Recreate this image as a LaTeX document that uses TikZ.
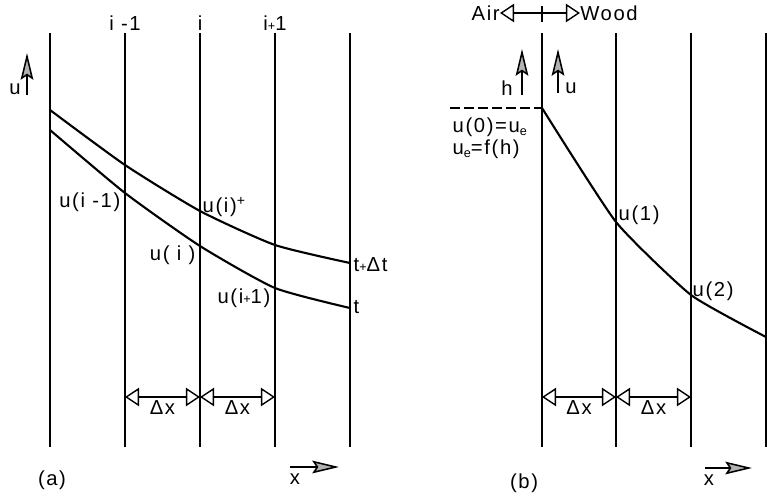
\documentclass[tikz,border=0pt]{standalone}
\usepackage{fontspec}
\setmainfont{Liberation Sans}[LetterSpace=8]
\usetikzlibrary{arrows.meta}
\tikzset{
  gridline/.style={line width=1.1pt},
  profile/.style={line width=1.5pt},
  dimarrow/.style={line width=0.9pt,{Triangle[open,length=10pt,width=13pt,line width=1pt]}-{Triangle[open,length=10pt,width=13pt,line width=1pt]}},
  axisarrow/.style={line width=1.1pt,-{Stealth[length=19pt,width=9pt,inset=3pt,fill=gray!60]}},
  lbl/.style={inner sep=1pt,font=\Large}
}
\begin{document}
\begin{tikzpicture}[x=0.025cm,y=-0.025cm]
\useasboundingbox (0,0) rectangle (767,496);
% (a) grid of nodes
\foreach \n/\xx in {0/50,1/125,2/200,3/275,4/350}{
  \coordinate (aT\n) at (\xx,33);
  \coordinate (aB\n) at (\xx,447);
  \coordinate (aD\n) at (\xx,397);
  \draw[gridline] (aT\n) -- (aB\n);
}
\node[lbl] (im) at (125,23) {i -1};
\node[lbl] (ii) at (200,23) {i};
\node[lbl] (ip) at (275,23) {i{\small +}1};
% profiles at t and t+dt
\coordinate (new0) at (50,110);
\coordinate (new1) at (125,165);
\coordinate (new2) at (200,211);
\coordinate (new3) at (275,245);
\coordinate (new4) at (350,263);
\coordinate (old0) at (50,130);
\coordinate (old1) at (125,193);
\coordinate (old2) at (200,246);
\coordinate (old3) at (275,288);
\coordinate (old4) at (350,308);
\draw[profile] plot[smooth,tension=0.35] coordinates {(new0) (new1) (new2) (new3) (new4)};
\draw[profile] plot[smooth,tension=0.35] coordinates {(old0) (old1) (old2) (old3) (old4)};
\node[lbl,anchor=east] (uim) at (122,202) {u(i -1)};
\node[lbl,anchor=west] (uin) at (201,207) {u(i)\textsuperscript{+}};
\node[lbl,anchor=east] (ui) at (197,255) {u( i )};
\node[lbl,anchor=east] (uip) at (272,298) {u(i{\small +}1)};
\node[lbl,anchor=west] (tdt) at (352,265) {t{\small +}Δt};
\node[lbl,anchor=west] (tt) at (352,307) {t};
% u axis
\coordinate (uA) at (27,95);
\coordinate (uB) at (27,53);
\draw[axisarrow] (uA) -- (uB);
\node[lbl] (ua) at (15,89) {u};
% spacing
\draw[dimarrow] (aD1) -- node[lbl,below=1pt] (dxa1) {Δx} (aD2);
\draw[dimarrow] (aD2) -- node[lbl,below=1pt] (dxa2) {Δx} (aD3);
% x axis
\coordinate (xaA) at (290,467);
\coordinate (xaB) at (339,467);
\draw[axisarrow] (xaA) -- (xaB);
\node[lbl] (xa) at (295,479) {x};
\node[lbl] (capa) at (52,480) {(a)};
% (b) grid of nodes
\foreach \n/\xx in {0/542,1/616,2/691,3/766}{
  \coordinate (bT\n) at (\xx,33);
  \coordinate (bB\n) at (\xx,447);
  \coordinate (bD\n) at (\xx,397);
  \draw[gridline] (bT\n) -- (bB\n);
}
\node[lbl,anchor=east,inner sep=0pt] (air) at (500,13) {Air};
\node[lbl,anchor=west,inner sep=0pt] (wood) at (580,13) {Wood};
\draw[dimarrow] (air.east) -- (wood.west);
\coordinate (skT) at (542,6);
\coordinate (skB) at (542,22);
\draw[gridline] (skT) -- (skB);
% h and u axes
\coordinate (hA) at (522,95);
\coordinate (hB) at (522,49);
\draw[axisarrow] (hA) -- (hB);
\node[lbl] (hb) at (507,88) {h};
\coordinate (ubA) at (558,93);
\coordinate (ubB) at (558,49);
\draw[axisarrow] (ubA) -- (ubB);
\node[lbl] (ub) at (571,88) {u};
% surface condition
\coordinate (surfL) at (450,108);
\coordinate (b0) at (542,108);
\coordinate (b1) at (616,222);
\coordinate (b2) at (691,295);
\coordinate (b3) at (766,337);
\draw[gridline,dash pattern=on 7pt off 3pt] (surfL) -- (b0);
\draw[profile] plot[smooth,tension=0.3] coordinates {(b0) (b1) (b2) (b3)};
\node[lbl,anchor=west] (u0) at (451,127) {u(0)=u\raisebox{-0.3ex}{\small e}};
\node[lbl,anchor=west] (ue) at (451,149) {u\raisebox{-0.3ex}{\small e}=f(h)};
\node[lbl,anchor=west] (ub1) at (617,215) {u(1)};
\node[lbl,anchor=west] (ub2) at (691,291) {u(2)};
% spacing
\draw[dimarrow] (bD0) -- node[lbl,below=1pt] (dxb1) {Δx} (bD1);
\draw[dimarrow] (bD1) -- node[lbl,below=1pt] (dxb2) {Δx} (bD2);
% x axis
\coordinate (xbA) at (705,468);
\coordinate (xbB) at (752,468);
\draw[axisarrow] (xbA) -- (xbB);
\node[lbl] (xb) at (709,480) {x};
\node[lbl] (capb) at (524,483) {(b)};
\end{tikzpicture}
\end{document}
